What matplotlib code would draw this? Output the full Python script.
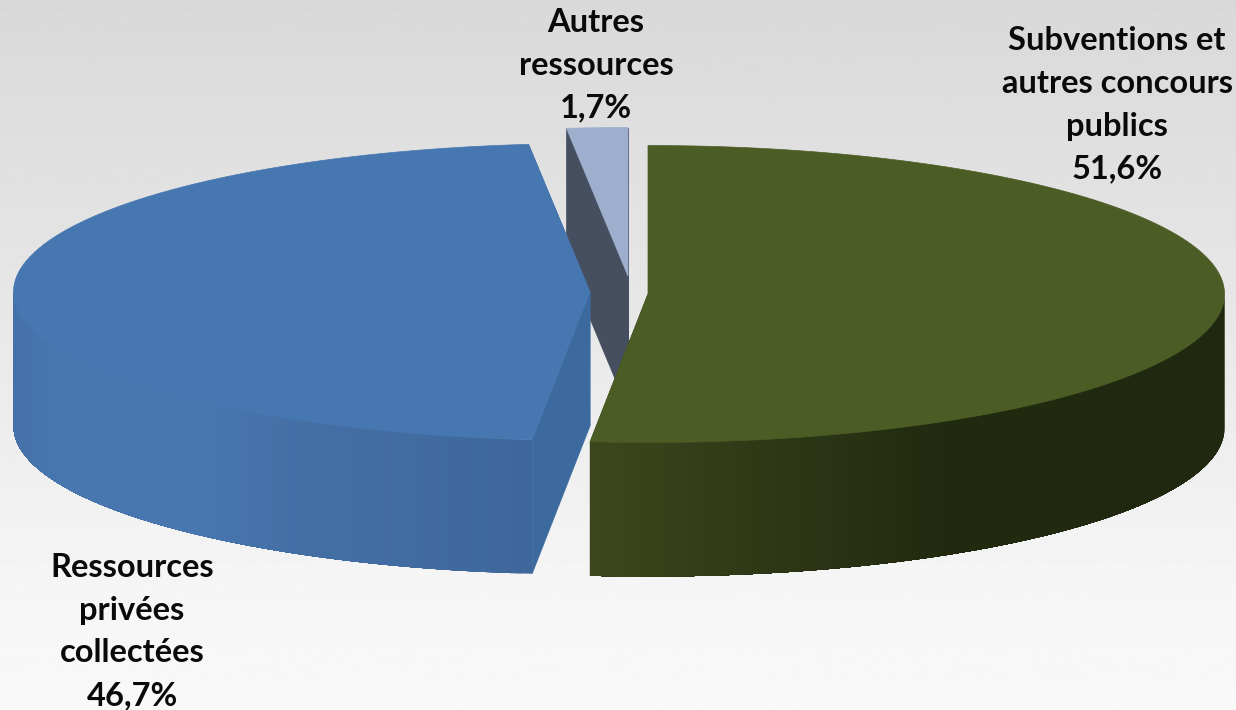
import numpy as np
import matplotlib
matplotlib.use('Agg')
import matplotlib.pyplot as plt
from matplotlib.colors import to_rgb
from matplotlib.patches import Polygon

W, H = 1236, 710

# parts, clockwise from 12 o'clock
names  = ['Subventions et\nautres concours\npublics', 'Ressources\nprivées\ncollectées', 'Autres\nressources']
values = [51.6, 46.7, 1.7]

# pie geometry in pixels
centers = [(648, 294), (590, 292), (628, 276)]
RX, RY  = 576.5, 148.5
DEPTH   = 134

top_colors  = ['#4c5c25', '#4777b0', '#9dafcd']
cut_colors  = ['#3a451c', '#3c6a9f', '#464f5f']
wall_ramps  = [
    [(590, '#3c471d'), (760, '#2f3916'), (950, '#21290f'), (1225, '#20280f')],
    [(14, '#4471a8'), (70, '#4877b0'), (190, '#4877b0'), (300, '#446fa5'), (533, '#3e689b')],
    [(0, '#464f5f'), (1236, '#464f5f')],
]

label_pos = [(1117, 50.5), (132, 577), (596, 32)]
LINE_STEP = 42.7


def rim(center, a0, a1, n=200):
    t = np.radians(np.linspace(a0, a1, n))
    return center[0] + RX * np.sin(t), center[1] - RY * np.cos(t)


def ramp_color(ramp, x):
    xs = [p[0] for p in ramp]
    rgb = np.array([to_rgb(p[1]) for p in ramp])
    return [np.interp(x, xs, rgb[:, i]) for i in range(3)]


fig = plt.figure(figsize=(W / 100, H / 100), dpi=100)
ax = fig.add_axes([0, 0, 1, 1])
ax.set_xlim(0, W)
ax.set_ylim(H, 0)
ax.axis('off')

# background
bg = np.interp(np.linspace(0, 1, 256), [0, 0.35, 0.85, 1], [0.85, 0.895, 0.965, 0.975])
ax.imshow(bg[:, None], extent=(0, W, H, 0), aspect='auto', cmap='gray', vmin=0, vmax=1, zorder=0)

angles = np.cumsum([0] + values) * 3.6
draw_order = [2, 1, 0]  # small piece behind, green in front

for z, i in enumerate(draw_order):
    c = centers[i]
    a0, a1 = angles[i], angles[i + 1]
    zo = 2 + z * 10
    xs, ys = rim(c, a0, a1)

    # cut faces going down from the center
    for x_end, y_end in [(xs[0], ys[0]), (xs[-1], ys[-1])]:
        face = [(c[0], c[1]), (x_end, y_end), (x_end, y_end + DEPTH), (c[0], c[1] + DEPTH)]
        ax.add_patch(Polygon(face, fc=cut_colors[i], ec=cut_colors[i], lw=0.5, zorder=zo))

    # outer wall as flat strips, each one overlapped by the next to avoid seams
    lo, hi = max(a0, 90), min(a1, 270)
    if hi > lo:
        wx, wy = rim(c, lo, hi, 90)
        for k in range(len(wx) - 1):
            quad = np.column_stack([np.r_[wx[k:], wx[k:][::-1]],
                                    np.r_[wy[k:], wy[k:][::-1] + DEPTH]])
            col = ramp_color(wall_ramps[i], (wx[k] + wx[k + 1]) / 2)
            ax.add_patch(Polygon(quad, fc=col, ec='none', zorder=zo + 1))

    # top face
    top = np.column_stack([np.r_[c[0], xs], np.r_[c[1], ys]])
    ax.add_patch(Polygon(top, fc=top_colors[i], ec=top_colors[i], lw=0.5, zorder=zo + 2))

# labels
for name, val, (lx, ly) in zip(names, values, label_pos):
    lines = name.split('\n') + [f'{val:.1f}%'.replace('.', ',')]
    for n, line in enumerate(lines):
        ax.text(lx, ly + n * LINE_STEP, line, ha='center', va='baseline',
                family='Lato', fontweight='bold', fontsize=23.5, color='#0a0a0a', zorder=50)

fig.savefig('out.png', dpi=100)
